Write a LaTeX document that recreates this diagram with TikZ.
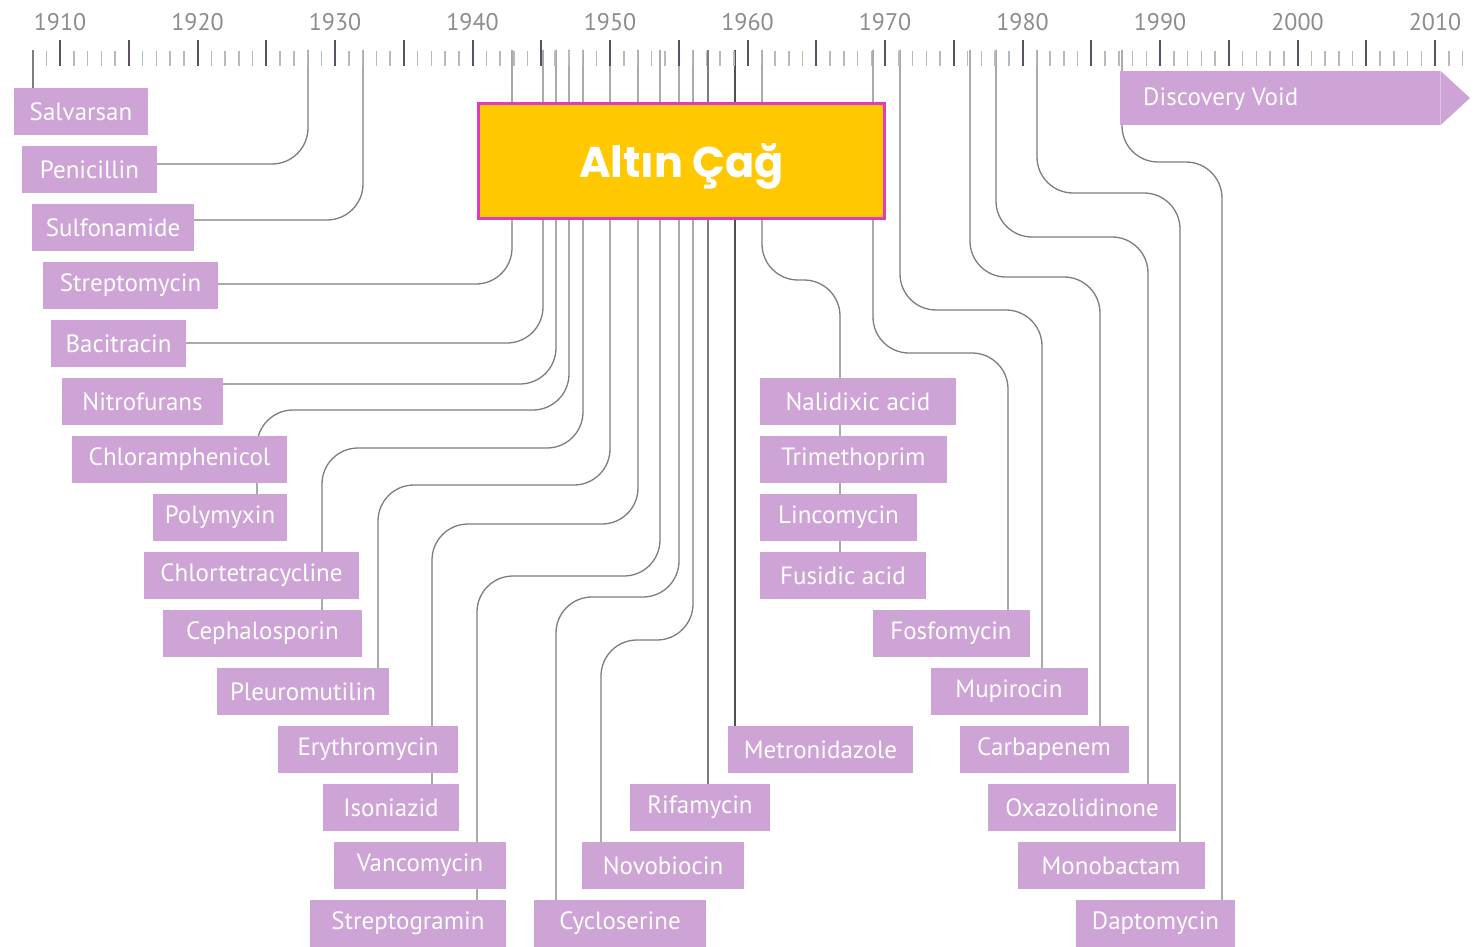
\documentclass[tikz,border=0pt]{standalone}
\usepackage{fontspec}
\newfontfamily\labelfont{PT Sans}
\newfontfamily\cagfont{Poppins}
\usetikzlibrary{backgrounds}
\definecolor{drugpurple}{RGB}{206,163,214}
\definecolor{cagyellow}{RGB}{255,200,0}
\definecolor{cagmagenta}{RGB}{220,60,190}
\definecolor{linegray}{RGB}{125,125,125}
\definecolor{linedark}{RGB}{80,80,80}
\definecolor{tickdark}{RGB}{90,80,98}
\tikzset{
    drug/.style={fill=drugpurple, text=white, inner sep=0pt, minimum height=47pt,
                 font=\labelfont\fontsize{25}{30}\selectfont},
    conn/.style={draw=linegray, line width=1.3pt, rounded corners=36pt},
    yearlbl/.style={text=gray!90, font=\labelfont\fontsize{24}{28}\selectfont}
}

\begin{document}
\begin{tikzpicture}
  [
    x = 1pt,
    y = -1pt,
  ]
  \useasboundingbox (0,0) rectangle (1483,947);

  % time axis
  \foreach \yr in {1909,...,2012}
    \draw[gray!55, line width=1.5pt] ({60+(\yr-1910)*13.75},51) -- ++(0,15);
  \foreach \yr in {1910,1915,...,2010}
    \draw[tickdark, line width=2pt] ({60+(\yr-1910)*13.75},40) -- ++(0,26);
  \foreach \yr in {1910,1920,...,2010}
    \node[yearlbl] at ({60+(\yr-1910)*13.75},22) {\yr};

  % where each line leaves the axis
  \foreach \n/\x in {salv/33, peni/308, sulf/363, strep/512, baci/543, nitro/556,
                     chlor/569, chlt/583, pleu/610, eryt/638, vanc/660, cycl/679,
                     novo/693, rifa/708, metr/735, nali/762, fosf/873, mupi/900,
                     carb/970, oxaz/996, mono/1037, dapt/1122}
    \coordinate (a-\n) at (\x,50);

  % golden age
  \node [fill=cagyellow, draw=cagmagenta, line width=3pt, text=white,
         minimum width=406pt, minimum height=115pt, text height=32pt, text depth=0pt,
         font=\cagfont\bfseries\fontsize{43}{48}\selectfont] (altin) at (681.5,161) {Altın Çağ};

  % discovery void
  \node [fill=drugpurple, inner sep=0pt, minimum width=320pt, minimum height=54pt,
         anchor=west] (void) at (1120,98) {};
  \fill [drugpurple] (void.north east) -- (1470,98) -- (void.south east) -- cycle;
  \node [anchor=west, text=white, inner sep=0pt,
         font=\labelfont\fontsize{25}{30}\selectfont] (voidlbl) at (1143,99) {Discovery Void};

  % antibiotic classes
  \node [drug, minimum width=134pt] (salvarsan) at (81,111.5) {Salvarsan};
  \node [drug, minimum width=135pt] (penicillin) at (89.5,169.5) {Penicillin};
  \node [drug, minimum width=162pt] (sulfonamide) at (113,227.5) {Sulfonamide};
  \node [drug, minimum width=175pt] (streptomycin) at (130.5,285.5) {Streptomycin};
  \node [drug, minimum width=135pt] (bacitracin) at (118.5,343.5) {Bacitracin};
  \node [drug, minimum width=161pt] (nitrofurans) at (142.5,401.5) {Nitrofurans};
  \node [drug, minimum width=215pt] (chloramphenicol) at (179.5,459.5) {Chloramphenicol};
  \node [drug, minimum width=134pt] (polymyxin) at (220,517.5) {Polymyxin};
  \node [drug, minimum width=215pt] (chlortetracycline) at (251.5,575.5) {Chlortetracycline};
  \node [drug, minimum width=199pt] (cephalosporin) at (262.5,633.5) {Cephalosporin};
  \node [drug, minimum width=172pt] (pleuromutilin) at (303,691.5) {Pleuromutilin};
  \node [drug, minimum width=180pt] (erythromycin) at (368,749.5) {Erythromycin};
  \node [drug, minimum width=136pt] (isoniazid) at (391,807.5) {Isoniazid};
  \node [drug, minimum width=172pt] (vancomycin) at (420,865.5) {Vancomycin};
  \node [drug, minimum width=196pt] (streptogramin) at (408,923.5) {Streptogramin};
  \node [drug, minimum width=172pt] (cycloserine) at (620,923.5) {Cycloserine};
  \node [drug, minimum width=162pt] (novobiocin) at (663,865.5) {Novobiocin};
  \node [drug, minimum width=140pt] (rifamycin) at (700,807.5) {Rifamycin};
  \node [drug, minimum width=185pt] (metronidazole) at (820.5,749.5) {Metronidazole};
  \node [drug, minimum width=196pt] (nalidixic) at (858,401.5) {Nalidixic acid};
  \node [drug, minimum width=187pt] (trimethoprim) at (853.5,459.5) {Trimethoprim};
  \node [drug, minimum width=157pt] (lincomycin) at (838.5,517.5) {Lincomycin};
  \node [drug, minimum width=166pt] (fusidic) at (843,575.5) {Fusidic acid};
  \node [drug, minimum width=157pt] (fosfomycin) at (951,633.5) {Fosfomycin};
  \node [drug, minimum width=157pt] (mupirocin) at (1009,691.5) {Mupirocin};
  \node [drug, minimum width=169pt] (carbapenem) at (1044,749.5) {Carbapenem};
  \node [drug, minimum width=188pt] (oxazolidinone) at (1082,807.5) {Oxazolidinone};
  \node [drug, minimum width=187pt] (monobactam) at (1111,865.5) {Monobactam};
  \node [drug, minimum width=159pt] (daptomycin) at (1155.5,923.5) {Daptomycin};

  % lines from the axis down to the boxes
  \begin{scope}[on background layer]
    \draw [conn] (a-salv) -- (salvarsan.north -| a-salv);
    \draw [conn] (a-peni) |- (penicillin.east |- 0,164);
    \draw [conn] (a-sulf) |- (sulfonamide.east |- 0,220);
    \draw [conn] (a-strep) |- (streptomycin.east |- 0,284);
    \draw [conn] (a-baci) |- (bacitracin.east |- 0,343);
    \draw [conn] (a-nitro) |- (nitrofurans.east |- 0,384);
    \draw [conn] (a-chlor) |- (257,410) -- (polymyxin.north -| 257,0);
    \draw [conn] (a-chlt) |- (322,448) -- (cephalosporin.north -| 322,0);
    \draw [conn] (a-pleu) |- (378,485) -- (pleuromutilin.north -| 378,0);
    \draw [conn] (a-eryt) |- (432,524) -- (isoniazid.north -| 432,0);
    \draw [conn] (a-vanc) |- (477,576) -- (streptogramin.north -| 477,0);
    \draw [conn] (a-cycl) |- (556,597) -- (cycloserine.north -| 556,0);
    \draw [conn] (a-novo) |- (601,640) -- (novobiocin.north -| 601,0);
    \draw [conn] (a-rifa) -- (rifamycin.north -| a-rifa);
    \draw [conn, draw=linedark] (a-metr) -- (metronidazole.north -| a-metr);
    \draw [conn] (a-nali) |- (840,280) -- (fusidic.north -| 840,0);
    \draw [conn] (a-fosf) |- (1008,353) -- (fosfomycin.north -| 1008,0);
    \draw [conn] (a-mupi) |- (1042,310) -- (mupirocin.north -| 1042,0);
    \draw [conn] (a-carb) |- (1100,277) -- (carbapenem.north -| 1100,0);
    \draw [conn] (a-oxaz) |- (1148,237) -- (oxazolidinone.north -| 1148,0);
    \draw [conn] (a-mono) |- (1180,193) -- (monobactam.north -| 1180,0);
    \draw [conn] (a-dapt) |- (1222,162) -- (daptomycin.north -| 1222,0);
  \end{scope}
\end{tikzpicture}
\end{document}
